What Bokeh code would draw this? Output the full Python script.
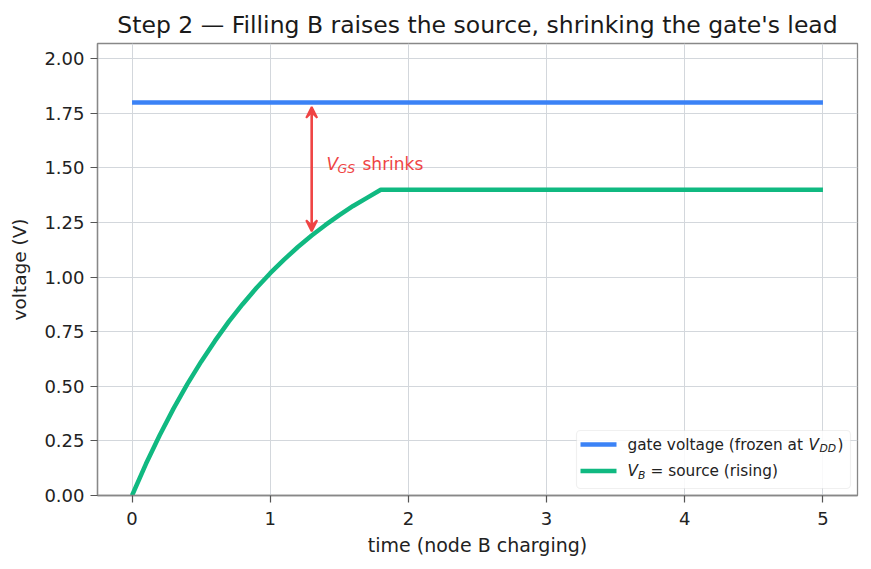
from bokeh.plotting import figure
from bokeh.models import (Range1d, Arrow, VeeHead, Label, BoxAnnotation,
                          FixedTicker, NumeralTickFormatter)
from bokeh.embed import file_html
from bokeh.resources import INLINE

# ---------------- data ----------------
t_gate = [0.0, 5.0]
v_gate = [1.80, 1.80]

t_src = [0.0, 0.1, 0.2, 0.3, 0.4, 0.5, 0.6, 0.7, 0.8, 0.9, 1.0, 1.1, 1.2,
         1.3, 1.4, 1.5, 1.6, 1.7, 1.8, 5.0]
v_src = [0.000, 0.144, 0.276, 0.398, 0.510, 0.613, 0.708, 0.796, 0.876,
         0.950, 1.018, 1.080, 1.138, 1.191, 1.239, 1.284, 1.326, 1.363,
         1.400, 1.400]

arrow_t = 1.3
arrow_top = 1.78
arrow_bottom = 1.21
label_t = 1.4
label_v = 1.5

x_ticks = [0, 1, 2, 3, 4, 5]
y_ticks = [0.0, 0.25, 0.5, 0.75, 1.0, 1.25, 1.5, 1.75, 2.0]

BLUE = "#3b82f6"
GREEN = "#10b981"
RED = "#ef4444"
FONT = "DejaVu Sans"

# ---------------- layout ----------------
W, H = 871, 569
FL, FR, FT, FB = 97, 857, 43, 495   # frame edges in pixels
X0, X1 = -0.25, 5.25
Y0, Y1 = 0.0, 2.07


def px_x(px):
    return X0 + (px - FL) / (FR - FL) * (X1 - X0)


def px_y(py):
    return Y0 + (FB - py) / (FB - FT) * (Y1 - Y0)


p = figure(width=W, height=H, output_backend="svg", toolbar_location=None,
           x_range=Range1d(X0, X1), y_range=Range1d(Y0, Y1),
           min_border_left=FL, min_border_right=W - FR,
           min_border_top=FT, min_border_bottom=H - FB,
           title="Step 2 — Filling B raises the source, shrinking the gate's lead")

p.title.text_font = FONT
p.title.text_font_size = "23.5px"
p.title.text_font_style = "normal"
p.title.text_color = "#1a1a1a"
p.title.align = "center"

p.background_fill_color = "white"
p.border_fill_color = "white"
p.outline_line_color = "#888888"
p.outline_line_width = 1.3

for ax in (p.xaxis, p.yaxis):
    ax.axis_line_color = "#888888"
    ax.axis_line_width = 1.3
    ax.major_tick_line_color = "#555555"
    ax.major_tick_line_width = 1.2
    ax.major_tick_out = 7
    ax.major_tick_in = 0
    ax.minor_tick_line_color = None
    ax.major_label_text_font = FONT
    ax.major_label_text_font_size = "18px"
    ax.major_label_text_color = "#222222"
    ax.axis_label_text_font = FONT
    ax.axis_label_text_font_style = "normal"
    ax.axis_label_text_color = "#222222"

p.xaxis.major_label_standoff = 9
p.yaxis.major_label_standoff = 6
p.xaxis.axis_label_text_font_size = "19px"
p.yaxis.axis_label_text_font_size = "18.5px"

p.xaxis.ticker = FixedTicker(ticks=x_ticks)
p.yaxis.ticker = FixedTicker(ticks=y_ticks)
p.yaxis.formatter = NumeralTickFormatter(format="0.00")
p.xaxis.axis_label = "time (node B charging)"
p.yaxis.axis_label = "voltage (V)"
p.xaxis.axis_label_standoff = 6
p.yaxis.axis_label_standoff = 11

p.xgrid.grid_line_color = "#d3d7dc"
p.ygrid.grid_line_color = "#d3d7dc"
p.xgrid.grid_line_width = 1
p.ygrid.grid_line_width = 1

# ---------------- series ----------------
p.line(t_gate, v_gate, line_color=BLUE, line_width=4.5)
p.line(t_src, v_src, line_color=GREEN, line_width=4.5)

# ---------------- annotation ----------------
p.add_layout(Arrow(x_start=arrow_t, y_start=arrow_bottom, x_end=arrow_t, y_end=arrow_top,
                   line_color=RED, line_width=2.6,
                   start=VeeHead(size=11, line_color=RED, fill_color=RED, line_width=2),
                   end=VeeHead(size=11, line_color=RED, fill_color=RED, line_width=2)))

ann_parts = [("V", 1, 4, "17px", "italic"),
             ("GS", 12, -1, "12.5px", "italic"),
             ("shrinks", 37, 4, "17px", "normal")]
for txt, dx, dy, size, style in ann_parts:
    p.add_layout(Label(x=label_t, y=label_v, text=txt, x_offset=dx, y_offset=dy,
                       text_font=FONT, text_font_size=size, text_font_style=style,
                       text_color=RED, text_baseline="middle", text_align="left"))

# ---------------- legend (custom, to allow subscripts) ----------------
p.add_layout(BoxAnnotation(left=px_x(576), right=px_x(850), top=px_y(430), bottom=px_y(488),
                           fill_color="white", fill_alpha=0.85,
                           line_color="#cccccc", line_width=1.2, border_radius=4,
                           level="annotation"))

rows = [(444, BLUE), (470.5, GREEN)]
for py, col in rows:
    p.segment(x0=[px_x(580)], y0=[px_y(py)], x1=[px_x(616)], y1=[px_y(py)],
              line_color=col, line_width=4.5, level="overlay")

leg_parts = [
    (444, 627, "gate voltage (frozen at ", "15.3px", "normal", 0),
    (444, 808, "V", "15.3px", "italic", 0),
    (444, 819, "DD", "10.8px", "italic", -4),
    (444, 837, ")", "15.3px", "normal", 0),
    (470.5, 627, "V", "15.3px", "italic", 0),
    (470.5, 637.5, "B", "10.8px", "italic", -4),
    (470.5, 650, " = source (rising)", "15.3px", "normal", 0),
]
for py, px, txt, size, style, dy in leg_parts:
    p.add_layout(Label(x=px_x(px), y=px_y(py), y_offset=dy, text=txt,
                       text_font=FONT, text_font_size=size, text_font_style=style,
                       text_color="#222222", text_baseline="middle", text_align="left",
                       level="overlay"))

open("out.html", "w").write(file_html(p, INLINE))
